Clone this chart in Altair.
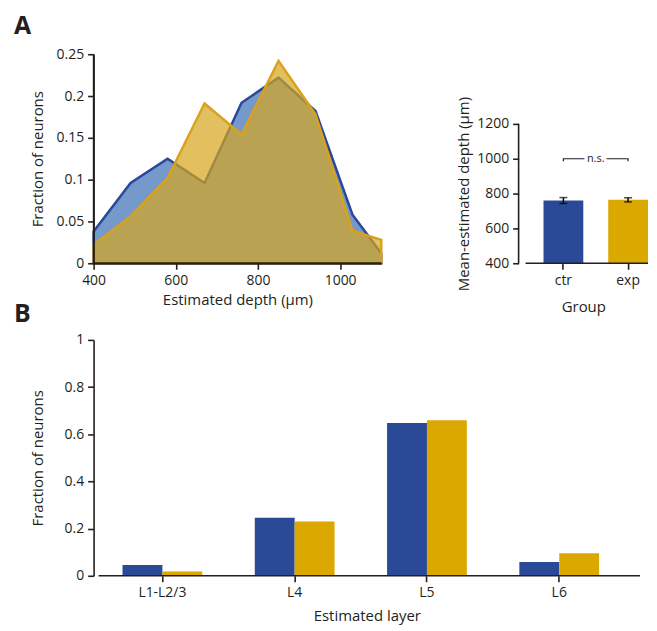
import altair as alt
import pandas as pd

# ---------------- data ----------------
depth_bins = [400, 490, 580, 670, 760, 850, 940, 1030, 1100]
ctr_fraction = [0.038, 0.096, 0.125, 0.096, 0.192, 0.222, 0.182, 0.058, 0.012]
exp_fraction = [0.022, 0.056, 0.102, 0.191, 0.154, 0.242, 0.178, 0.039, 0.028]

groups = ["ctr", "exp"]
mean_depth = [760, 764]
sem_depth = [17, 12]

layers = ["L1-L2/3", "L4", "L5", "L6"]
ctr_layer_fraction = [0.046, 0.246, 0.648, 0.058]
exp_layer_fraction = [0.018, 0.230, 0.659, 0.096]

# ---------------- style ----------------
FONT = "Open Sans"
INK = "#231f20"
BLUE = "#2a4a98"
YELLOW = "#dba800"
AX_W = 1.6

color_scale = alt.Scale(domain=groups, range=[BLUE, YELLOW])
one_row = pd.DataFrame({"a": [0]})

# ---------------- panel A left ----------------
dist = pd.DataFrame({
    "depth": depth_bins + depth_bins,
    "frac": ctr_fraction + exp_fraction,
    "group": ["ctr"] * len(depth_bins) + ["exp"] * len(depth_bins),
})

xA = alt.X("depth:Q",
           scale=alt.Scale(domain=[400, 1100], nice=False, zero=False),
           axis=alt.Axis(values=[400, 600, 800, 1000], format="d", labelFlush=False,
                         labelPadding=4, zindex=2,
                         title="Estimated depth (µm)", titlePadding=5))
yA = alt.Y("frac:Q",
           scale=alt.Scale(domain=[0, 0.25], nice=False),
           axis=alt.Axis(values=[0, 0.05, 0.1, 0.15, 0.2, 0.25], format="~g", zindex=2,
                         labelPadding=4, title="Fraction of neurons", titlePadding=11))

blue_area = alt.Chart(dist).transform_filter("datum.group == 'ctr'").mark_area(
    fill="#7699cb", stroke="#2b489b", strokeWidth=2.5, strokeJoin="miter"
).encode(x=xA, y=yA)

yellow_area = alt.Chart(dist).transform_filter("datum.group == 'exp'").mark_area(
    fill="#d6a51c", fillOpacity=0.7, stroke="#d9a21c", strokeWidth=2.5, strokeJoin="miter"
).encode(x=xA, y=yA)

y_line_L = alt.Chart(one_row).mark_rule(color=INK, strokeWidth=AX_W).encode(
    x=alt.datum(400), y=alt.datum(0), y2=alt.datum(0.25))
x_line_L = alt.Chart(one_row).mark_rule(color=INK, strokeWidth=2).encode(
    x=alt.datum(400), x2=alt.datum(1100), y=alt.datum(0))

letter_A = alt.Chart(pd.DataFrame({"t": ["A"]})).mark_text(
    font=FONT, fontSize=25, fontWeight="bold", color=INK, align="left", baseline="alphabetic"
).encode(text="t:N", x=alt.value(-80), y=alt.value(-20))

panel_A_left = alt.layer(
    blue_area, yellow_area, y_line_L, x_line_L, letter_A
).properties(width=289, height=210)

# ---------------- panel A right ----------------
means = pd.DataFrame({
    "group": groups,
    "mean": mean_depth,
    "lo": [m - s for m, s in zip(mean_depth, sem_depth)],
    "hi": [m + s for m, s in zip(mean_depth, sem_depth)],
})

xG = alt.X("group:N",
           scale=alt.Scale(domain=groups, paddingInner=0.385, paddingOuter=0.1923, align=1.0),
           axis=alt.Axis(title="Group", labelAngle=0, domain=False, labelPadding=4,
                         titlePadding=12))
yG_scale = alt.Scale(domain=[400, 1600], nice=False, zero=False)
yG_axis = alt.Axis(values=[400, 600, 800, 1000, 1200], format="d", domain=False,
                   labelPadding=4, title="Mean-estimated depth (µm)", titleY=140,
                   titlePadding=5.5)

bars_A = alt.Chart(means).mark_bar().encode(
    x=xG,
    y=alt.Y("mean:Q", scale=yG_scale, axis=yG_axis),
    y2=alt.datum(400),
    color=alt.Color("group:N", scale=color_scale, legend=None),
)
err_rule = alt.Chart(means).mark_rule(color="black", strokeWidth=1.5).encode(
    x="group:N", y="lo:Q", y2="hi:Q")
err_lo = alt.Chart(means).mark_tick(color="black", size=8, thickness=1.5).encode(
    x="group:N", y="lo:Q")
err_hi = alt.Chart(means).mark_tick(color="black", size=8, thickness=1.5).encode(
    x="group:N", y="hi:Q")

bracket = pd.DataFrame({
    "bx": ["ctr", "ctr", "exp", "exp"],
    "by": [985, 1000, 1000, 985],
    "o": [0, 1, 2, 3],
})
bracket_line = alt.Chart(bracket).mark_line(color=INK, strokeWidth=1.2).encode(
    x="bx:N", y="by:Q", order="o:Q")
ns_df = pd.DataFrame({"bx": ["ctr"], "by": [1000], "t": ["n.s."]})
ns_halo = alt.Chart(ns_df).mark_text(
    font=FONT, fontSize=11, color="white", stroke="white", strokeWidth=7, dx=32.5, baseline="middle"
).encode(x="bx:N", y="by:Q", text="t:N")
ns_text = alt.Chart(ns_df).mark_text(
    font=FONT, fontSize=11, color=INK, dx=32.5, baseline="middle"
).encode(x="bx:N", y="by:Q", text="t:N")

y_line_A = alt.Chart(one_row).mark_rule(color=INK, strokeWidth=AX_W).encode(
    x=alt.value(0), y=alt.datum(1200), y2=alt.datum(400))
x_line_A = alt.Chart(one_row).mark_rule(color=INK, strokeWidth=AX_W).encode(
    x=alt.value(7), x2=alt.value(130), y=alt.datum(400))
ghost_A = alt.Chart(pd.DataFrame({"t": ["A"]})).mark_text(
    font=FONT, fontSize=25, fontWeight="bold", opacity=0, baseline="alphabetic"
).encode(text="t:N", x=alt.value(20), y=alt.value(-20))

panel_A_right = alt.layer(
    bars_A, err_rule, err_lo, err_hi, bracket_line, ns_halo, ns_text, y_line_A, x_line_A, ghost_A
).properties(width=130, height=210)

# ---------------- panel B ----------------
layer_df = pd.DataFrame({
    "layer": layers + layers,
    "group": ["ctr"] * len(layers) + ["exp"] * len(layers),
    "frac": ctr_layer_fraction + exp_layer_fraction,
})

bars_B = alt.Chart(layer_df).mark_bar().encode(
    x=alt.X("layer:N",
            scale=alt.Scale(domain=layers, paddingInner=0.397, paddingOuter=0.264, align=0.414),
            axis=alt.Axis(title="Estimated layer", labelAngle=0, domain=False, labelPadding=4,
                          titlePadding=9)),
    xOffset=alt.XOffset("group:N", scale=alt.Scale(domain=groups, paddingInner=0, paddingOuter=0)),
    y=alt.Y("frac:Q", scale=alt.Scale(domain=[0, 1], nice=False),
            axis=alt.Axis(values=[0, 0.2, 0.4, 0.6, 0.8, 1], format="~g", labelPadding=4,
                          title="Fraction of neurons", titlePadding=19)),
    color=alt.Color("group:N", scale=color_scale, legend=None),
)
x_line_B = alt.Chart(one_row).mark_rule(color=INK, strokeWidth=AX_W).encode(
    x=alt.value(5), x2=alt.value(549), y=alt.datum(0))
letter_B = alt.Chart(pd.DataFrame({"t": ["B"]})).mark_text(
    font=FONT, fontSize=25, fontWeight="bold", color=INK, align="left", baseline="alphabetic"
).encode(text="t:N", x=alt.value(-80), y=alt.value(-18))

panel_B = alt.layer(bars_B, x_line_B, letter_B).properties(width=549, height=237)

# ---------------- assemble ----------------
row_A = alt.hconcat(panel_A_left, panel_A_right, spacing=70)
chart = alt.vconcat(row_A, panel_B, spacing=-12).properties(
    padding={"left": 6, "top": 5, "right": 0, "bottom": 0}
).configure(font=FONT).configure_view(stroke=None).configure_axis(
    labelFont=FONT, labelFontSize=14, labelColor=INK, labelPadding=4,
    titleFont=FONT, titleFontSize=15, titleFontWeight="normal", titleColor=INK,
    domainColor=INK, domainWidth=AX_W, tickColor=INK, tickWidth=AX_W, tickSize=6,
    grid=False, zindex=1,
)

chart.save("out.html", embed_options={"renderer": "svg", "actions": False})
